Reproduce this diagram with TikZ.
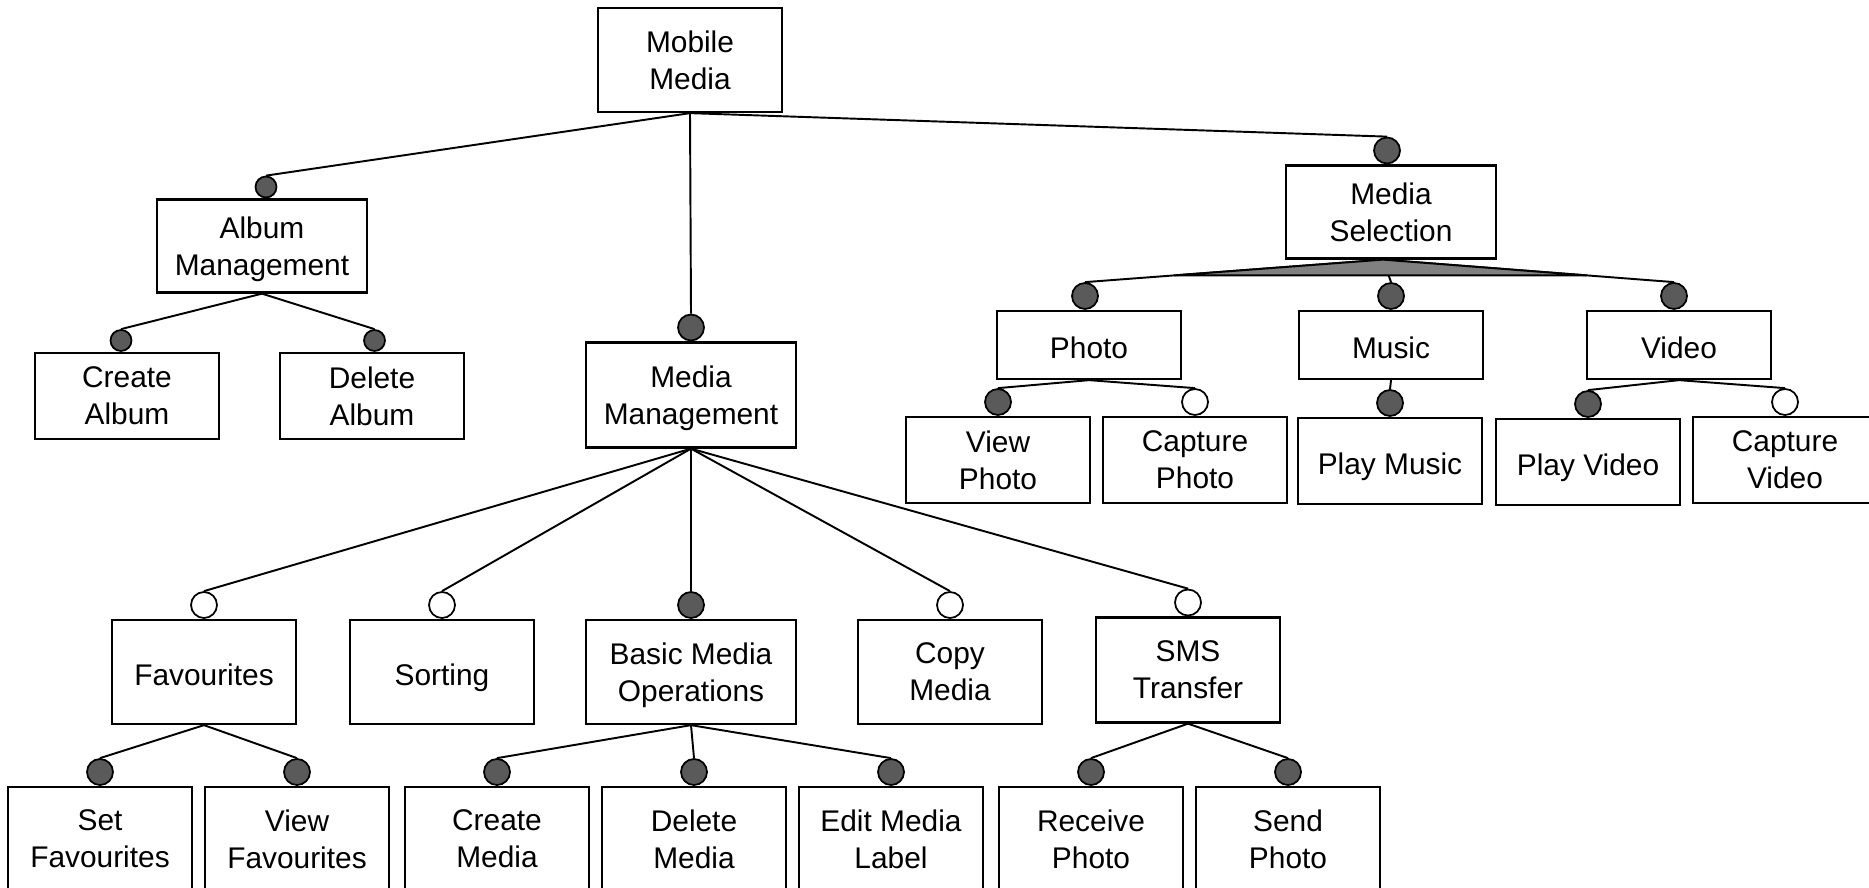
\documentclass[tikz,border=0pt]{standalone}
\usepackage{fontspec}
\setmainfont{Liberation Sans}
\usetikzlibrary{positioning, calc}
\definecolor{mandgray}{RGB}{90, 90, 90}
\definecolor{altgray}{RGB}{128, 128, 128}

\begin{document}
\begin{tikzpicture}[
    x=0.02cm, y=-0.02cm,
    feat/.style={rectangle, draw, line width=1.3pt, minimum width=3.68cm, minimum height=1.72cm, inner sep=0pt, align=center, text depth=0pt, font=\fontsize{17}{21}\selectfont},
    widefeat/.style={feat, minimum width=4.2cm},
    oneline/.style={text height=15pt},
    mand/.style={circle, draw, line width=1pt, fill=mandgray, minimum size=0.52cm, inner sep=0pt},
    opt/.style={mand, fill=white},
    smalldot/.style={minimum size=0.42cm},
    link/.style={line width=1.1pt}
]

\path[use as bounding box, fill=white] (0,0) rectangle (1869,887);

% root and first level
\node[feat, minimum height=2.08cm] (mobile) at (690,60) {Mobile\\Media};
\node[widefeat, minimum height=1.86cm] (album) at (262,246) {Album\\Management};
\node[widefeat, minimum height=2.1cm] (mediamgmt) at (691,395) {Media\\Management};
\node[widefeat, minimum height=1.86cm] (mediasel) at (1391,212) {Media\\Selection};

% album management
\node[feat] (createalbum) at (127,396) {Create\\Album};
\node[feat] (deletealbum) at (372,396) {Delete\\Album};

% media selection
\node[feat, oneline, minimum height=1.36cm] (photo) at (1089,345) {Photo};
\node[feat, oneline, minimum height=1.36cm] (music) at (1391,345) {Music};
\node[feat, oneline, minimum height=1.36cm] (video) at (1679,345) {Video};
\node[feat] (viewphoto) at (998,460) {View\\Photo};
\node[feat] (capturephoto) at (1195,460) {Capture\\Photo};
\node[feat, oneline] (playmusic) at (1390,461) {Play Music};
\node[feat, oneline] (playvideo) at (1588,462) {Play Video};
\node[feat] (capturevideo) at (1785,460) {Capture\\Video};

% media management
\node[feat, oneline, minimum height=2.08cm] (favourites) at (204,672) {Favourites};
\node[feat, oneline, minimum height=2.08cm] (sorting) at (442,672) {Sorting};
\node[widefeat, minimum height=2.08cm] (basicops) at (691,672) {Basic Media\\Operations};
\node[feat, minimum height=2.08cm] (copymedia) at (950,672) {Copy\\Media};
\node[feat, minimum height=2.1cm] (smstransfer) at (1188,670) {SMS\\Transfer};

\node[feat, minimum height=2.08cm] (setfav) at (100,839) {Set\\Favourites};
\node[feat, minimum height=2.08cm] (viewfav) at (297,839) {View\\Favourites};
\node[feat, minimum height=2.08cm] (createmedia) at (497,839) {Create\\Media};
\node[feat, minimum height=2.08cm] (deletemedia) at (694,839) {Delete\\Media};
\node[feat, minimum height=2.08cm] (editlabel) at (891,839) {Edit Media\\Label};
\node[feat, minimum height=2.08cm] (receivephoto) at (1091,839) {Receive\\Photo};
\node[feat, minimum height=2.08cm] (sendphoto) at (1288,839) {Send\\Photo};

% feature markers
\node[mand, smalldot, above=0pt of album, xshift=0.08cm] (albumc) {};
\node[mand, smalldot, above=0pt of createalbum, xshift=-0.12cm] (createalbumc) {};
\node[mand, smalldot, above=0pt of deletealbum, xshift=0.05cm] (deletealbumc) {};
\node[mand, above=0pt of mediamgmt] (mediamgmtc) {};
\node[mand, above=0pt of mediasel, xshift=-0.08cm] (mediaselc) {};
\node[mand, above=0pt of photo, xshift=-0.08cm] (photoc) {};
\node[mand, above=0pt of music] (musicc) {};
\node[mand, above=0pt of video, xshift=-0.1cm] (videoc) {};
\node[mand, above=0pt of viewphoto] (viewphotoc) {};
\node[opt, above=0pt of capturephoto] (capturephotoc) {};
\node[mand, above=0pt of playmusic] (playmusicc) {};
\node[mand, above=0pt of playvideo] (playvideoc) {};
\node[opt, above=0pt of capturevideo] (capturevideoc) {};
\node[opt, above=0pt of favourites] (favouritesc) {};
\node[opt, above=0pt of sorting] (sortingc) {};
\node[mand, above=0pt of basicops] (basicopsc) {};
\node[opt, above=0pt of copymedia] (copymediac) {};
\node[opt, above=0pt of smstransfer] (smstransferc) {};
\node[mand, above=0pt of setfav] (setfavc) {};
\node[mand, above=0pt of viewfav] (viewfavc) {};
\node[mand, above=0pt of createmedia] (createmediac) {};
\node[mand, above=0pt of deletemedia] (deletemediac) {};
\node[mand, above=0pt of editlabel] (editlabelc) {};
\node[mand, above=0pt of receivephoto] (receivephotoc) {};
\node[mand, above=0pt of sendphoto] (sendphotoc) {};

% connectors
\draw[link] (mobile.south) -- (albumc.north);
\draw[link] (mobile.south) -- (mediamgmtc.north);
\draw[link] (mobile.south) -- (mediaselc.north);

\draw[link] (album.south) -- (createalbumc.north);
\draw[link] (album.south) -- (deletealbumc.north);

\draw[link] (mediamgmt.south) -- (favouritesc.north);
\draw[link] (mediamgmt.south) -- (sortingc.north);
\draw[link] (mediamgmt.south) -- (basicopsc.north);
\draw[link] (mediamgmt.south) -- (copymediac.north);
\draw[link] (mediamgmt.south) -- (smstransferc.north);

\draw[link] (favourites.south) -- (setfavc.north);
\draw[link] (favourites.south) -- (viewfavc.north);
\draw[link] (basicops.south) -- (createmediac.north);
\draw[link] (basicops.south) -- (deletemediac.north);
\draw[link] (basicops.south) -- (editlabelc.north);
\draw[link] (smstransfer.south) -- (receivephotoc.north);
\draw[link] (smstransfer.south) -- (sendphotoc.north);

\draw[link] (photo.south) -- (viewphotoc.north);
\draw[link] (photo.south) -- (capturephotoc.north);
\draw[link] (music.south) -- (playmusicc.north);
\draw[link] (video.south) -- (playvideoc.north);
\draw[link] (video.south) -- (capturevideoc.north);

% alternative group under media selection
\coordinate (msapex) at ([xshift=-0.16cm]mediasel.south);
\draw[link] (msapex) -- (photoc.north);
\draw[link] (msapex) -- (musicc.north);
\draw[link] (msapex) -- (videoc.north);
\filldraw[link, fill=altgray] (msapex) -- ($(msapex)!0.7!(photoc.north)$) -- ($(msapex)!0.7!(videoc.north)$) -- cycle;

\end{tikzpicture}
\end{document}
